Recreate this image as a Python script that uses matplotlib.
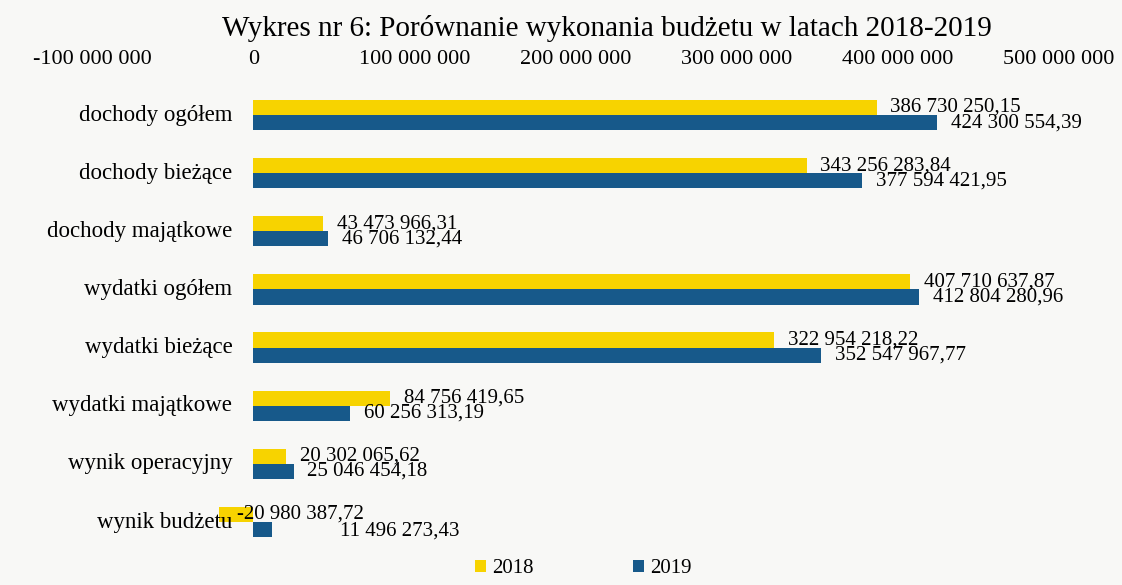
import numpy as np
import matplotlib.pyplot as plt
from matplotlib.ticker import FuncFormatter

plt.rcParams['font.family'] = ['Liberation Serif', 'DejaVu Serif']

categories = ["dochody ogółem", "dochody bieżące", "dochody majątkowe", "wydatki ogółem",
              "wydatki bieżące", "wydatki majątkowe", "wynik operacyjny", "wynik budżetu"]
v2018 = [386730250.15, 343256283.84, 43473966.31, 407710637.87,
         322954218.22, 84756419.65, 20302065.62, -20980387.72]
v2019 = [424300554.39, 377594421.95, 46706132.44, 412804280.96,
         352547967.77, 60256313.19, 25046454.18, 11496273.43]
years = ["2018", "2019"]
colors = ["#F7D300", "#17598A"]

def pl(v):
    # polish format: space as thousands separator, comma as decimal
    s = f"{abs(v):,.2f}".replace(",", " ").replace(".", ",")
    return ("-" if v < 0 else "") + s

fig = plt.figure(figsize=(11.22, 5.85), dpi=100, facecolor="#f8f8f6")
ax = fig.add_axes([0.082, 0.058, 0.862, 0.795])
ax.set_facecolor("#f8f8f6")

y = np.arange(len(categories))
h = 0.26
ax.barh(y - h/2, v2018, height=h, color=colors[0], label=years[0])
ax.barh(y + h/2, v2019, height=h, color=colors[1], label=years[1])

fs = 15
for i in range(len(categories)):
    ax.annotate(pl(v2018[i]), (v2018[i], y[i] - h/2), xytext=(10 if v2018[i] > 0 else 13, 0),
                textcoords="offset points", ha="left", va="center", fontsize=fs)
    # last row: excel pushed the 2019 label further right and a bit down
    dx, dy = (10, 0) if i < len(categories) - 1 else (49, -1)
    ax.annotate(pl(v2019[i]), (v2019[i], y[i] + h/2), xytext=(dx, dy),
                textcoords="offset points", ha="left", va="center", fontsize=fs)
    ax.annotate(categories[i], (0, y[i]), xytext=(-15, 0), textcoords="offset points",
                ha="right", va="center", fontsize=16.5)

ax.set_xlim(-100e6, 500e6)
ax.set_ylim(len(categories) - 0.5, -0.5)
ax.set_xticks(np.arange(-100e6, 500e6 + 1, 100e6))
ax.xaxis.set_major_formatter(FuncFormatter(lambda v, p: f"{v:,.0f}".replace(",", " ")))
ax.xaxis.tick_top()
ax.tick_params(axis="x", length=0, labelsize=16, pad=12)
ax.set_yticks([])
for s in ax.spines.values():
    s.set_visible(False)

fig.text(0.541, 0.952, "Wykres nr 6: Porównanie wykonania budżetu w latach 2018-2019",
         ha="center", va="center", fontsize=21)
fig.legend(loc="center", bbox_to_anchor=(0.52, 0.028), ncol=2, frameon=False, fontsize=15,
           handlelength=0.5, handleheight=0.5, columnspacing=4.8, handletextpad=0.3)

fig.savefig("out.png", dpi=100, facecolor=fig.get_facecolor())
